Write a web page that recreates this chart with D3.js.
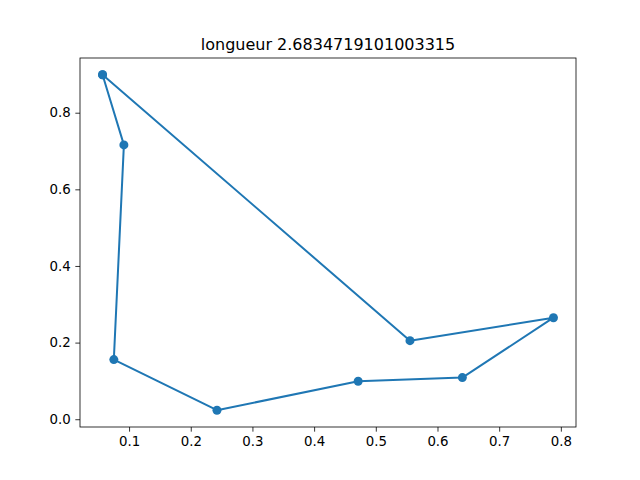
<!DOCTYPE html>
<html lang="en">
<head>
<meta charset="utf-8">
<title>longueur</title>
<script src="https://d3js.org/d3.v7.min.js"></script>
<style>
  body { margin: 0; background: white; }
  text { font-family: 'DejaVu Sans', sans-serif; fill: black; }
</style>
</head>
<body>
<div id="chart"></div>
<script>
// tour visited in order (closed back to the first point)
var xs = [0.057, 0.0916, 0.0753, 0.2425, 0.4714, 0.6403, 0.788, 0.5554];
var ys = [0.899, 0.716, 0.1557, 0.0235, 0.099, 0.1087, 0.265, 0.205];
var xTicks = [0.1, 0.2, 0.3, 0.4, 0.5, 0.6, 0.7, 0.8];
var yTicks = [0.0, 0.2, 0.4, 0.6, 0.8];
var title = "longueur 2.6834719101003315";

var width = 640, height = 480;
// plot area (named to avoid clashing with window.top)
var axLeft = 80, axRight = 576, axTop = 58, axBottom = 427;

var pts = xs.map(function(x, i) { return [x, ys[i]]; });

// matplotlib-style 5% margins
function padded(ext) {
  var m = (ext[1] - ext[0]) * 0.05;
  return [ext[0] - m, ext[1] + m];
}

var x = d3.scaleLinear().domain(padded(d3.extent(xs))).range([axLeft, axRight]);
var y = d3.scaleLinear().domain(padded(d3.extent(ys))).range([axBottom, axTop]);

var svg = d3.select("#chart").append("svg")
  .attr("width", width)
  .attr("height", height);

var tickLen = 4.67;

svg.append("g")
  .attr("transform", "translate(0," + axBottom + ")")
  .call(d3.axisBottom(x).tickValues(xTicks).tickFormat(d3.format(".1f")).tickSizeInner(tickLen).tickSizeOuter(0).tickPadding(4.67))
  .call(function(g) {
    g.select(".domain").remove();
    g.selectAll("line").attr("stroke-width", 0.8);
    g.selectAll("text").attr("font-size", "13.33px").attr("font-family", "DejaVu Sans, sans-serif");
  });

svg.append("g")
  .attr("transform", "translate(" + axLeft + ",0)")
  .call(d3.axisLeft(y).tickValues(yTicks).tickFormat(d3.format(".1f")).tickSizeInner(tickLen).tickSizeOuter(0).tickPadding(4.67))
  .call(function(g) {
    g.select(".domain").remove();
    g.selectAll("line").attr("stroke-width", 0.8);
    g.selectAll("text").attr("font-size", "13.33px").attr("font-family", "DejaVu Sans, sans-serif");
  });

// the tour line, back to the start
var loop = pts.concat([pts[0]]);
svg.append("path")
  .datum(loop)
  .attr("fill", "none")
  .attr("stroke", "#1f77b4")
  .attr("stroke-width", 2)
  .attr("stroke-linejoin", "round")
  .attr("d", d3.line().x(function(d) { return x(d[0]); }).y(function(d) { return y(d[1]); }));

svg.append("g")
  .selectAll("circle")
  .data(loop)
  .enter()
  .append("circle")
    .attr("cx", function(d) { return x(d[0]); })
    .attr("cy", function(d) { return y(d[1]); })
    .attr("r", 4.5)
    .attr("fill", "#1f77b4");

// frame
svg.append("rect")
  .attr("x", axLeft)
  .attr("y", axTop)
  .attr("width", axRight - axLeft)
  .attr("height", axBottom - axTop)
  .attr("fill", "none")
  .attr("stroke", "black")
  .attr("stroke-width", 0.8);

svg.append("text")
  .attr("x", (axLeft + axRight) / 2)
  .attr("y", axTop - 8)
  .attr("text-anchor", "middle")
  .attr("font-size", "16px")
  .text(title);
</script>
</body>
</html>
